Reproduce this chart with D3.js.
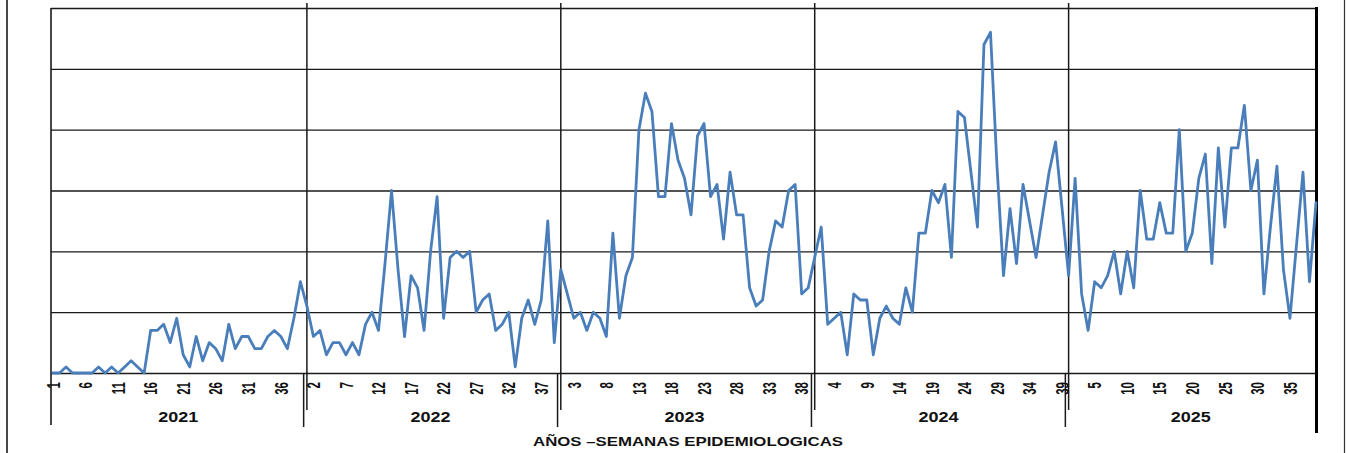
<!DOCTYPE html>
<html>
<head>
<meta charset="utf-8">
<script src="https://cdn.jsdelivr.net/npm/d3@7"></script>
<style>
  html, body { margin: 0; padding: 0; background: #fff; }
  svg { display: block; font-family: "Liberation Sans", Arial, sans-serif; }
</style>
</head>
<body>
<svg id="chart" width="1346" height="453"></svg>
<script>
// Weekly case counts by epidemiological week, 2021–2025
const years = [2021, 2022, 2023, 2024, 2025];
const weeksPerYear = 39;

const cases2021 = [0, 0, 1, 0, 0, 0, 0, 1, 0, 1, 0, 1, 2, 1, 0, 7, 7, 8, 5, 9,
                   3, 1, 6, 2, 5, 4, 2, 8, 4, 6, 6, 4, 4, 6, 7, 6, 4, 9, 15];
const cases2022 = [11, 6, 7, 3, 5, 5, 3, 5, 3, 8, 10, 7, 18, 30, 17, 6, 16, 14, 7, 20,
                   29, 9, 19, 20, 19, 20, 10, 12, 13, 7, 8, 10, 1, 9, 12, 8, 12, 25, 5];
const cases2023 = [17, 13, 9, 10, 7, 10, 9, 6, 23, 9, 16, 19, 40, 46, 43, 29, 29, 41, 35, 32,
                   26, 39, 41, 29, 31, 22, 33, 26, 26, 14, 11, 12, 20, 25, 24, 30, 31, 13, 14];
const cases2024 = [19, 24, 8, 9, 10, 3, 13, 12, 12, 3, 9, 11, 9, 8, 14, 10, 23, 23, 30, 28,
                   31, 19, 43, 42, 33, 24, 54, 56, 34, 16, 27, 18, 31, 25, 19, 26, 33, 38, 27];
const cases2025 = [16, 32, 13, 7, 15, 14, 16, 20, 13, 20, 14, 30, 22, 22, 28, 23, 23, 40, 20, 23,
                   32, 36, 18, 37, 24, 37, 37, 44, 30, 35, 13, 24, 34, 17, 9, 21, 33, 15, 28];

const gridValues = [0, 10, 20, 30, 40, 50, 60];
const labelEvery = 5;
const axisTitle = "AÑOS –SEMANAS EPIDEMIOLOGICAS";

const seriesByYear = [cases2021, cases2022, cases2023, cases2024, cases2025];

// one continuous sequence of weeks across all years
const points = years.flatMap((yr, k) =>
  seriesByYear[k].map((v, j) => ({ idx: k * weeksPerYear + j, year: yr, week: j + 1, value: v })));
const lastIdx = points.length - 1;

const plot = { left: 51, right: 1316, top: 8, bottom: 373 };
const svg = d3.select("#chart");

const x = d3.scaleLinear().domain([0, lastIdx]).range([53, plot.right]);
const y = d3.scaleLinear().domain([0, 60]).range([plot.bottom, plot.top]);

const ink = "#1a1a1a";

// outer frame
svg.append("line").attr("x1", 7).attr("x2", 7).attr("y1", 0).attr("y2", 453)
  .attr("stroke", ink).attr("stroke-width", 1.6);
svg.append("line").attr("x1", 1344.5).attr("x2", 1344.5).attr("y1", 0).attr("y2", 453)
  .attr("stroke", "#333").attr("stroke-width", 1.2);

// horizontal grid
const grid = svg.append("g")
  .attr("transform", `translate(${plot.left},0)`)
  .call(d3.axisLeft(y).tickValues(gridValues).tickSize(-(plot.right - plot.left)).tickFormat(""));
grid.select(".domain").remove();
grid.selectAll(".tick line").attr("stroke", ink).attr("stroke-width", 1.3);

// left border (extends through the label band)
svg.append("line").attr("x1", plot.left).attr("x2", plot.left)
  .attr("y1", plot.top).attr("y2", 425).attr("stroke", ink).attr("stroke-width", 1.6);

// year separators through the plot and in the label band
const yearStarts = years.map((yr, k) => k * weeksPerYear).slice(1);
svg.append("g").selectAll("line.sep").data(yearStarts).join("line")
  .attr("x1", d => x(d)).attr("x2", d => x(d))
  .attr("y1", 3).attr("y2", 410)
  .attr("stroke", ink).attr("stroke-width", 1.5);
svg.append("g").selectAll("line.grp").data(yearStarts).join("line")
  .attr("x1", d => x(d - 0.5)).attr("x2", d => x(d - 0.5))
  .attr("y1", plot.bottom).attr("y2", 427)
  .attr("stroke", ink).attr("stroke-width", 1.5);

// right border
svg.append("line").attr("x1", plot.right + 0.5).attr("x2", plot.right + 0.5)
  .attr("y1", 7).attr("y2", 433).attr("stroke", "#000").attr("stroke-width", 3);

// week labels along the bottom
const tickIdx = points.filter(p => p.idx % labelEvery === 0).map(p => p.idx);
const xAxis = svg.append("g")
  .attr("transform", `translate(0,${plot.bottom})`)
  .call(d3.axisBottom(x).tickValues(tickIdx).tickSize(0)
    .tickFormat(i => String(points[i].week)));
xAxis.select(".domain").remove();
xAxis.selectAll(".tick text")
  .attr("transform", "translate(0,9) scale(1.55,1) rotate(-90)")
  .attr("x", 0).attr("y", 0).attr("dy", "0.35em")
  .attr("text-anchor", "end")
  .attr("font-size", 11.5).attr("font-weight", "bold")
  .attr("font-family", "'Liberation Sans', Arial, sans-serif")
  .attr("fill", "#111");

// year labels, centred on each block of weeks
svg.append("g").selectAll("text.year").data(years).join("text")
  .attr("x", (d, k) => (x(k === 0 ? 0 : k * weeksPerYear - 0.5) + (k === years.length - 1 ? plot.right : x((k + 1) * weeksPerYear - 0.5))) / 2)
  .attr("y", 421.5)
  .attr("text-anchor", "middle")
  .attr("font-size", 14).attr("font-weight", "bold")
  .attr("textLength", 40).attr("lengthAdjust", "spacingAndGlyphs")
  .attr("fill", "#111")
  .text(d => d);

// axis title
svg.append("text")
  .attr("x", 688).attr("y", 446)
  .attr("text-anchor", "middle")
  .attr("font-size", 13).attr("font-weight", "bold")
  .attr("textLength", 310).attr("lengthAdjust", "spacingAndGlyphs")
  .attr("fill", "#111")
  .text(axisTitle);

// case line
const line = d3.line().x(d => x(d.idx)).y(d => y(d.value));
svg.append("path").datum(points)
  .attr("d", line)
  .attr("fill", "none")
  .attr("stroke", "#4A7EBB")
  .attr("stroke-width", 2.8)
  .attr("stroke-linejoin", "round")
  .attr("stroke-linecap", "round");
</script>
</body>
</html>
